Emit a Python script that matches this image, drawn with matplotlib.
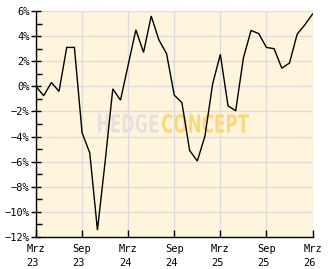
import matplotlib
matplotlib.use("Agg")
import matplotlib.pyplot as plt
from matplotlib.textpath import TextPath
from matplotlib.patches import PathPatch
from matplotlib.font_manager import FontProperties
from matplotlib.transforms import Affine2D, IdentityTransform
from matplotlib.ticker import MultipleLocator, FuncFormatter

# Monthly values Mar 2023 .. Mar 2026 (percent)
months = list(range(37))
values = [0.0, -0.75, 0.3, -0.4, 3.1, 3.1, -3.7, -5.3, -11.45, -6.0, -0.2, -1.1,
          1.7, 4.5, 2.7, 5.6, 3.7, 2.6, -0.7, -1.3, -5.1, -5.95, -3.95, 0.2,
          2.55, -1.55, -1.95, 2.25, 4.45, 4.2, 3.1, 3.0, 1.45, 1.85, 4.15, 4.9, 5.75]
tick_pos = [0, 6, 12, 18, 24, 30, 36]
tick_labels = ["Mrz\n23", "Sep\n23", "Mrz\n24", "Sep\n24", "Mrz\n25", "Sep\n25", "Mrz\n26"]
y_ticks = [-12, -10, -8, -6, -4, -2, 0, 2, 4, 6]

W, H = 332, 269
fig = plt.figure(figsize=(W / 100, H / 100), dpi=100)
fig.patch.set_facecolor("white")
ax = fig.add_axes([36 / W, (H - 237) / H, (312.5 - 36) / W, (237 - 11) / H])
ax.set_facecolor("#fff5dc")

ax.plot(months, values, color="black", lw=1.0, zorder=5, solid_joinstyle="miter")

ax.set_xlim(0, 36)
ax.set_ylim(-12, 6)
ax.set_xticks(tick_pos)
ax.set_xticklabels(tick_labels, fontfamily="DejaVu Sans Mono", fontsize=7.5,
                   linespacing=1.55, multialignment="left")
ax.set_yticks(y_ticks)
ax.yaxis.set_major_formatter(FuncFormatter(lambda v, p: f"{int(v)}%".replace("-", "\u2212")))
ax.yaxis.set_minor_locator(MultipleLocator(1))
for lab in ax.get_yticklabels():
    lab.set_fontfamily("DejaVu Sans Mono")
    lab.set_fontsize(7.5)

ax.grid(True, which="major", color="#dcdcdc", lw=1.0, zorder=0)
ax.set_axisbelow(True)
for s in ("top", "right"):
    ax.spines[s].set_visible(False)
for s in ("left", "bottom"):
    ax.spines[s].set_color("black")
    ax.spines[s].set_linewidth(1.0)
ax.tick_params(axis="y", which="major", direction="inout", length=7, width=1, pad=1, colors="black")
ax.tick_params(axis="y", which="minor", direction="in", length=4, width=1)
ax.tick_params(axis="x", which="major", direction="in", length=5, width=1, pad=5)

# Watermark
fp = FontProperties(family="DejaVu Sans", weight="bold")
def watermark(text, x0, x1, ybot, ytop, color):
    tp = TextPath((0, 0), text, size=1, prop=fp)
    ext = tp.get_extents()
    sx = (x1 - x0) / ext.width
    sy = (ytop - ybot) / ext.height
    tr = Affine2D().translate(-ext.x0, -ext.y0).scale(sx, sy).translate(x0, ybot)
    patch = PathPatch(tp, transform=tr + IdentityTransform(), facecolor=color,
                      edgecolor="none", zorder=3)
    patch.set_transform(tr)
    ax.add_artist(patch)
    patch.set_clip_on(False)

watermark("HEDGE", 98, 158, H - 133, H - 114, "#e4e2dc")
watermark("CONCEPT", 162, 249, H - 133, H - 114, "#ffd67e")

fig.savefig("out.png", dpi=100)
